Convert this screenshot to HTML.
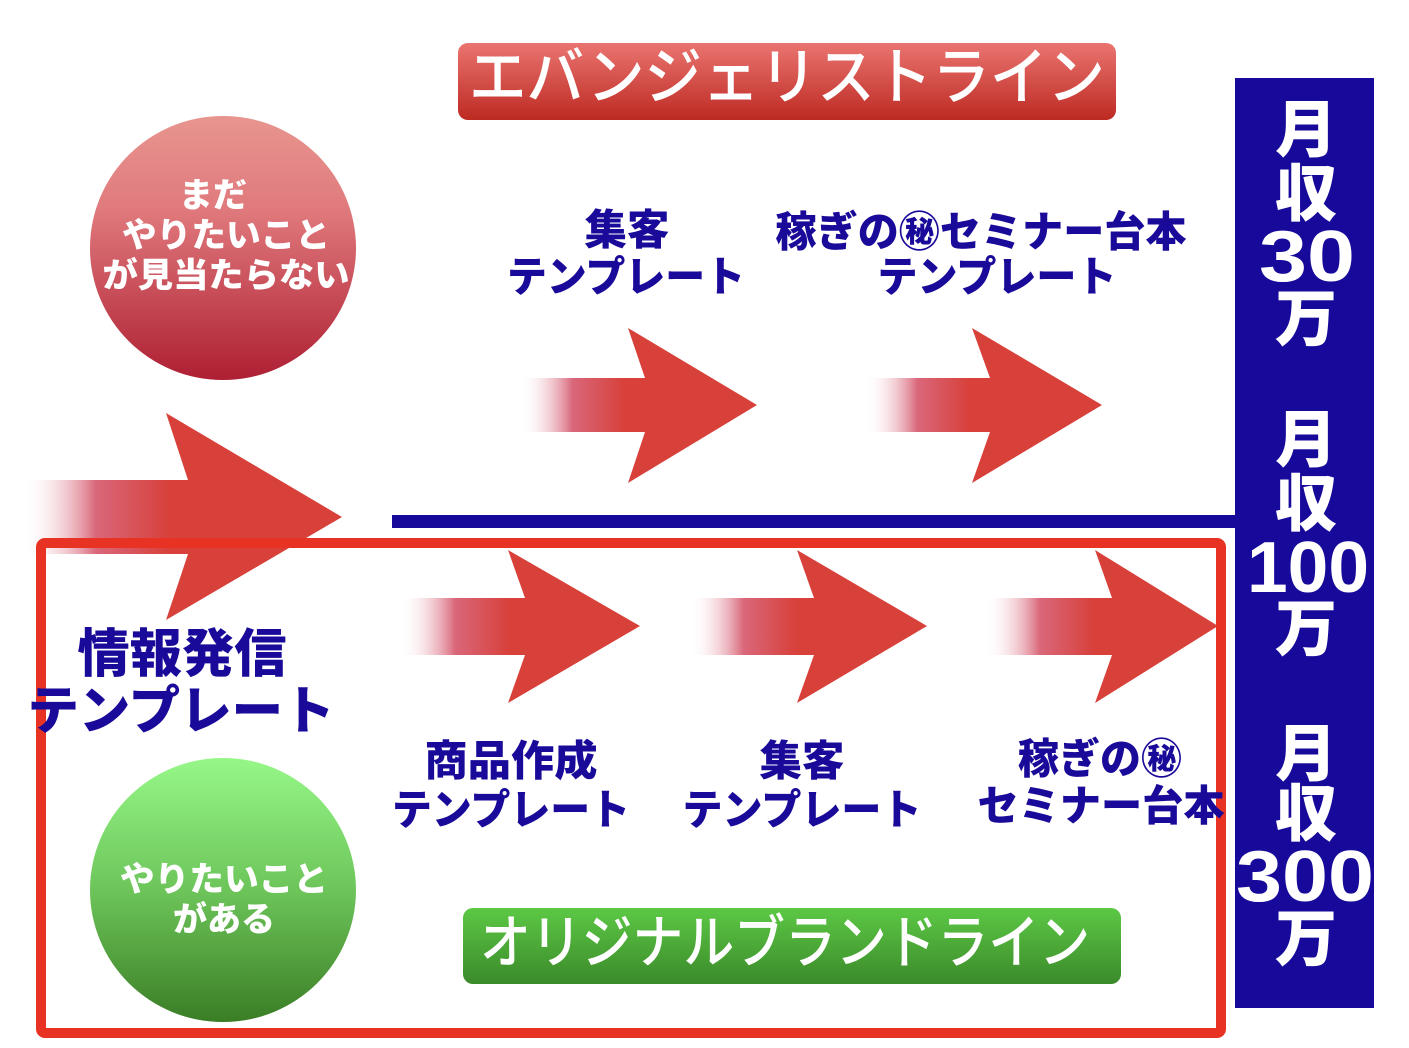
<!DOCTYPE html>
<html><head><meta charset="utf-8"><style>
html,body{margin:0;padding:0;background:#fff;}
svg{display:block;}
text{font-family:"Liberation Sans","Noto Sans CJK JP",sans-serif;}
.n{fill:#1a0a99;font-weight:900;}
.w{fill:#fff;font-weight:900;}
</style></head><body>
<svg width="1409" height="1048" viewBox="0 0 1409 1048" xmlns="http://www.w3.org/2000/svg">
<defs>
<linearGradient id="rc" x1="0" y1="0" x2="0" y2="1">
<stop offset="0" stop-color="#e8958f"/><stop offset="0.35" stop-color="#e07a7d"/><stop offset="1" stop-color="#ae1f33"/></linearGradient>
<linearGradient id="gc" x1="0" y1="0" x2="0" y2="1">
<stop offset="0" stop-color="#96f788"/><stop offset="0.5" stop-color="#6dc55a"/><stop offset="1" stop-color="#3a7d25"/></linearGradient>
<linearGradient id="rb" x1="0" y1="0" x2="0" y2="1">
<stop offset="0" stop-color="#ea7470"/><stop offset="1" stop-color="#bd2a22"/></linearGradient>
<linearGradient id="gb" x1="0" y1="0" x2="0" y2="1">
<stop offset="0" stop-color="#5cc845"/><stop offset="1" stop-color="#3b8a2a"/></linearGradient>
<linearGradient id="f0" gradientUnits="userSpaceOnUse" x1="22" y1="0" x2="170" y2="0"><stop offset="0" stop-color="#fff" stop-opacity="0"/><stop offset="0.5" stop-color="#d9677a"/><stop offset="1" stop-color="#d8403a"/></linearGradient>
<linearGradient id="f1" gradientUnits="userSpaceOnUse" x1="520" y1="0" x2="625" y2="0"><stop offset="0" stop-color="#fff" stop-opacity="0"/><stop offset="0.5" stop-color="#d9677a"/><stop offset="1" stop-color="#d8403a"/></linearGradient>
<linearGradient id="f2" gradientUnits="userSpaceOnUse" x1="865" y1="0" x2="970" y2="0"><stop offset="0" stop-color="#fff" stop-opacity="0"/><stop offset="0.5" stop-color="#d9677a"/><stop offset="1" stop-color="#d8403a"/></linearGradient>
<linearGradient id="f3" gradientUnits="userSpaceOnUse" x1="400" y1="0" x2="510" y2="0"><stop offset="0" stop-color="#fff" stop-opacity="0"/><stop offset="0.5" stop-color="#d9677a"/><stop offset="1" stop-color="#d8403a"/></linearGradient>
<linearGradient id="f4" gradientUnits="userSpaceOnUse" x1="690" y1="0" x2="797" y2="0"><stop offset="0" stop-color="#fff" stop-opacity="0"/><stop offset="0.5" stop-color="#d9677a"/><stop offset="1" stop-color="#d8403a"/></linearGradient>
<linearGradient id="f5" gradientUnits="userSpaceOnUse" x1="985" y1="0" x2="1095" y2="0"><stop offset="0" stop-color="#fff" stop-opacity="0"/><stop offset="0.5" stop-color="#d9677a"/><stop offset="1" stop-color="#d8403a"/></linearGradient>
</defs>

<rect x="458" y="43" width="658" height="77" rx="10" fill="url(#rb)"/>
<text x="787" y="78" text-anchor="middle" dominant-baseline="central" font-size="62" fill="#fff" font-weight="500" textLength="636" lengthAdjust="spacingAndGlyphs">エバンジェリストライン</text>
<rect x="463" y="908" width="658" height="76" rx="10" fill="url(#gb)"/>
<text x="785" y="943" text-anchor="middle" dominant-baseline="central" font-size="58" fill="#fff" font-weight="500" textLength="610" lengthAdjust="spacingAndGlyphs">オリジナルブランドライン</text>

<ellipse cx="223" cy="248" rx="133" ry="132" fill="url(#rc)"/>
<text class="w" x="213" y="196" text-anchor="middle" dominant-baseline="central" font-size="34">まだ</text>
<text class="w" x="226" y="236" text-anchor="middle" dominant-baseline="central" font-size="34" textLength="208" lengthAdjust="spacingAndGlyphs">やりたいこと</text>
<text class="w" x="226" y="276" text-anchor="middle" dominant-baseline="central" font-size="34" textLength="247" lengthAdjust="spacingAndGlyphs">が見当たらない</text>
<ellipse cx="223" cy="890" rx="133" ry="132" fill="url(#gc)"/>
<text class="w" x="224" y="880" text-anchor="middle" dominant-baseline="central" font-size="34" textLength="208" lengthAdjust="spacingAndGlyphs">やりたいこと</text>
<text class="w" x="224" y="920" text-anchor="middle" dominant-baseline="central" font-size="34" textLength="102" lengthAdjust="spacingAndGlyphs">がある</text>

<rect x="392" y="515" width="845" height="13" fill="#170a9a"/>

<polygon fill="url(#f0)" points="22,480 188,480 166,413 342,517 166,620 188,554 22,554"/>
<polygon fill="url(#f1)" points="520,378 645,378 628,328 757,405 628,483 645,432 520,432"/>
<polygon fill="url(#f2)" points="865,378 990,378 972,328 1102,405 972,483 990,432 865,432"/>
<polygon fill="url(#f3)" points="400,598 525,598 508,550 640,626 508,703 525,655 400,655"/>
<polygon fill="url(#f4)" points="690,598 814,598 797,550 927,626 797,703 814,655 690,655"/>
<polygon fill="url(#f5)" points="985,598 1112,598 1095,550 1218,626 1095,703 1112,655 985,655"/>

<rect x="41" y="543" width="1180" height="490" rx="4" fill="none" stroke="#e83324" stroke-width="10"/>

<text class="n" x="627" y="230" text-anchor="middle" dominant-baseline="central" font-size="42" textLength="85" lengthAdjust="spacingAndGlyphs">集客</text>
<text class="n" x="626" y="277" text-anchor="middle" dominant-baseline="central" font-size="42" textLength="238" lengthAdjust="spacingAndGlyphs">テンプレート</text>
<text class="n" x="981" y="232" text-anchor="middle" dominant-baseline="central" font-size="42" textLength="411" lengthAdjust="spacingAndGlyphs">稼ぎの㊙セミナー台本</text>
<text class="n" x="997" y="277" text-anchor="middle" dominant-baseline="central" font-size="42" textLength="239" lengthAdjust="spacingAndGlyphs">テンプレート</text>

<text class="n" x="182" y="655" text-anchor="middle" dominant-baseline="central" font-size="52" textLength="209" lengthAdjust="spacingAndGlyphs">情報発信</text>
<text class="n" x="181" y="712" text-anchor="middle" dominant-baseline="central" font-size="52" textLength="307" lengthAdjust="spacingAndGlyphs">テンプレート</text>
<text class="n" x="511" y="761" text-anchor="middle" dominant-baseline="central" font-size="42" textLength="173" lengthAdjust="spacingAndGlyphs">商品作成</text>
<text class="n" x="511" y="810" text-anchor="middle" dominant-baseline="central" font-size="42" textLength="238" lengthAdjust="spacingAndGlyphs">テンプレート</text>
<text class="n" x="802" y="761" text-anchor="middle" dominant-baseline="central" font-size="42" textLength="85" lengthAdjust="spacingAndGlyphs">集客</text>
<text class="n" x="802" y="810" text-anchor="middle" dominant-baseline="central" font-size="42" textLength="239" lengthAdjust="spacingAndGlyphs">テンプレート</text>
<text class="n" x="1100" y="759" text-anchor="middle" dominant-baseline="central" font-size="42" textLength="164" lengthAdjust="spacingAndGlyphs">稼ぎの㊙</text>
<text class="n" x="1101" y="806" text-anchor="middle" dominant-baseline="central" font-size="42" textLength="247" lengthAdjust="spacingAndGlyphs">セミナー台本</text>

<rect x="1235" y="78" width="139" height="930" fill="#170a9a"/>
<g class="w" font-size="62" text-anchor="middle">
<text class="w" x="1306" y="131" dominant-baseline="central">月</text>
<text class="w" x="1306" y="195" dominant-baseline="central">収</text>
<text class="w" x="1307" y="257" dominant-baseline="central" font-family="Liberation Sans" font-size="72" textLength="96" lengthAdjust="spacingAndGlyphs">30</text>
<text class="w" x="1306" y="320" dominant-baseline="central">万</text>
<text class="w" x="1306" y="441" dominant-baseline="central">月</text>
<text class="w" x="1306" y="505" dominant-baseline="central">収</text>
<text class="w" x="1308" y="568" dominant-baseline="central" font-family="Liberation Sans" font-size="72" textLength="122" lengthAdjust="spacingAndGlyphs">100</text>
<text class="w" x="1306" y="630" dominant-baseline="central">万</text>
<text class="w" x="1306" y="755" dominant-baseline="central">月</text>
<text class="w" x="1306" y="815" dominant-baseline="central">収</text>
<text class="w" x="1305" y="877" dominant-baseline="central" font-family="Liberation Sans" font-size="72" textLength="138" lengthAdjust="spacingAndGlyphs">300</text>
<text class="w" x="1306" y="940" dominant-baseline="central">万</text>
</g>
</svg>
</body></html>
